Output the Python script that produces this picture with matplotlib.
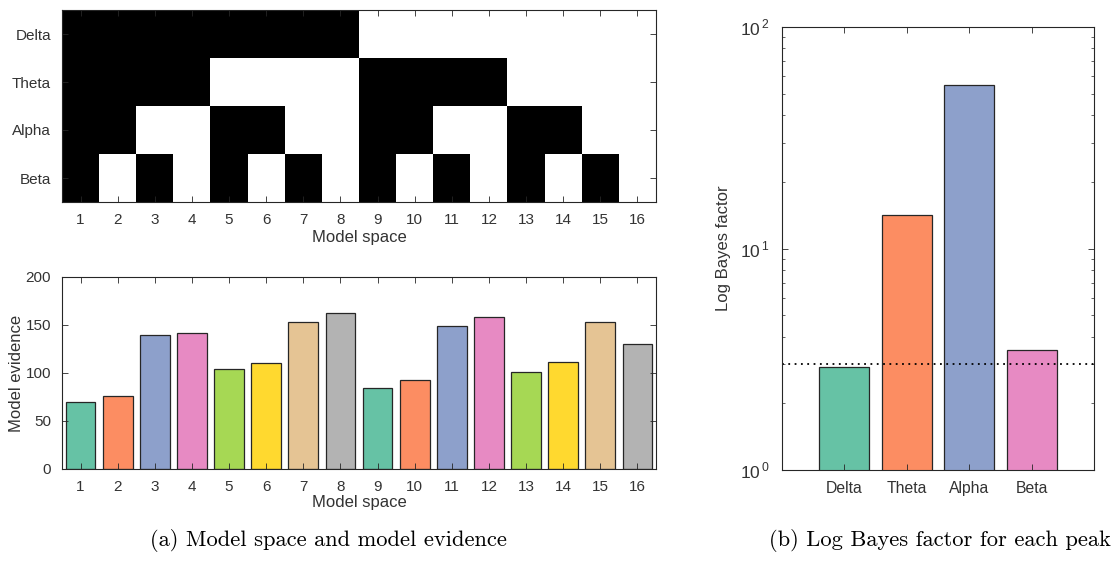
import numpy as np
import matplotlib
matplotlib.use("Agg")
import matplotlib.pyplot as plt

# ---- data ----
models = list(range(1, 16 + 1))
bands = ["Delta", "Theta", "Alpha", "Beta"]
delta_on = [1, 1, 1, 1, 1, 1, 1, 1, 0, 0, 0, 0, 0, 0, 0, 0]
theta_on = [1, 1, 1, 1, 0, 0, 0, 0, 1, 1, 1, 1, 0, 0, 0, 0]
alpha_on = [1, 1, 0, 0, 1, 1, 0, 0, 1, 1, 0, 0, 1, 1, 0, 0]
beta_on = [1, 0, 1, 0, 1, 0, 1, 0, 1, 0, 1, 0, 1, 0, 1, 0]
evidence = [70, 76, 139.5, 142, 104, 110, 153, 162, 84, 92.5, 149, 158.5, 101, 111.5, 153, 130.5]
bayes_factor = [2.92, 14.2, 54.7, 3.49]
threshold = 3.0

set2 = ["#66c2a5", "#fc8d62", "#8da0cb", "#e78ac3", "#a6d854", "#ffd92f", "#e5c494", "#b3b3b3"]

plt.rcParams["font.family"] = ["Liberation Sans", "DejaVu Sans"]
plt.rcParams["font.size"] = 11
plt.rcParams["mathtext.fontset"] = "custom"
plt.rcParams["mathtext.rm"] = "Liberation Sans"
txt = "#333333"
edge = "#262626"

fig = plt.figure(figsize=(11.16, 5.71), dpi=100)

def style(ax, size=11, pad=8):
    for s in ax.spines.values():
        s.set_color(edge)
        s.set_linewidth(0.8)
    ax.tick_params(direction="in", top=True, right=True, length=4, width=0.6,
                   colors=edge, labelcolor=txt, labelsize=size, pad=pad)
    ax.tick_params(which="minor", direction="in", right=True, length=2.5, width=0.5, colors=edge)

# ---- top: model space matrix ----
ax1 = fig.add_axes([62 / 1116, (571 - 202) / 571, 594 / 1116, 192 / 571])
mat = np.array([delta_on, theta_on, alpha_on, beta_on])
ax1.imshow(mat, cmap="gray_r", vmin=0, vmax=1, aspect="auto", interpolation="nearest",
           extent=[0.5, 16.5, 3.5, -0.5])
ax1.set_xlim(0.5, 16.5)
ax1.set_ylim(3.5, -0.5)
ax1.set_xticks(models)
ax1.set_xticklabels([str(m) for m in models])
ax1.set_yticks(range(len(bands)))
ax1.set_yticklabels(bands)
style(ax1)
ax1.set_xlabel("Model space", fontsize=12, color=txt, labelpad=2)

# ---- bottom: model evidence ----
ax2 = fig.add_axes([62 / 1116, (571 - 469) / 571, 594 / 1116, 192 / 571])
cols = [set2[i % 8] for i in range(len(models))]
ax2.bar(models, evidence, width=0.8, color=cols, edgecolor=edge, linewidth=0.9)
ax2.set_xlim(0.5, 16.5)
ax2.set_ylim(0, 200)
ax2.set_xticks(models)
ax2.set_yticks([0, 50, 100, 150, 200])
style(ax2)
ax2.set_xlabel("Model space", fontsize=12, color=txt, labelpad=1)
ax2.set_ylabel("Model evidence", fontsize=12, color=txt, labelpad=1)

# ---- right: log Bayes factor ----
ax3 = fig.add_axes([782 / 1116, (571 - 470) / 571, 312 / 1116, 443 / 571])
xs = np.arange(1, len(bands) + 1)
ax3.bar(xs, bayes_factor, width=0.8, color=set2[:4], edgecolor=edge, linewidth=0.9)
ax3.set_yscale("log")
ax3.set_ylim(1, 100)
ax3.set_xlim(0, 5)
ax3.set_xticks(xs)
ax3.set_xticklabels(bands)
ax3.set_yticks([1, 10, 100])
ax3.set_yticklabels([r"$10^{\,0}$", r"$10^{\,1}$", r"$10^{\,2}$"])
ax3.axhline(threshold, color="black", linestyle=(0, (1, 2.5)), linewidth=1.3)
style(ax3, size=11.3, pad=8)
ax3.tick_params(axis="y", which="major", labelsize=12.5, pad=9)
ax3.tick_params(axis="x", which="minor", top=False, bottom=False)
ax3.set_ylabel("Log Bayes factor", fontsize=12, color=txt, labelpad=6)

# ---- captions ----
fig.text(328 / 1116, 1 - 540 / 571, "(a) Model space and model evidence",
         ha="center", va="center", fontsize=16.2, family="cmr10", color="black")
fig.text(1111 / 1116, 1 - 540 / 571, "(b) Log Bayes factor for each peak",
         ha="right", va="center", fontsize=16.2, family="cmr10", color="black")

fig.savefig("out.png", dpi=100)
